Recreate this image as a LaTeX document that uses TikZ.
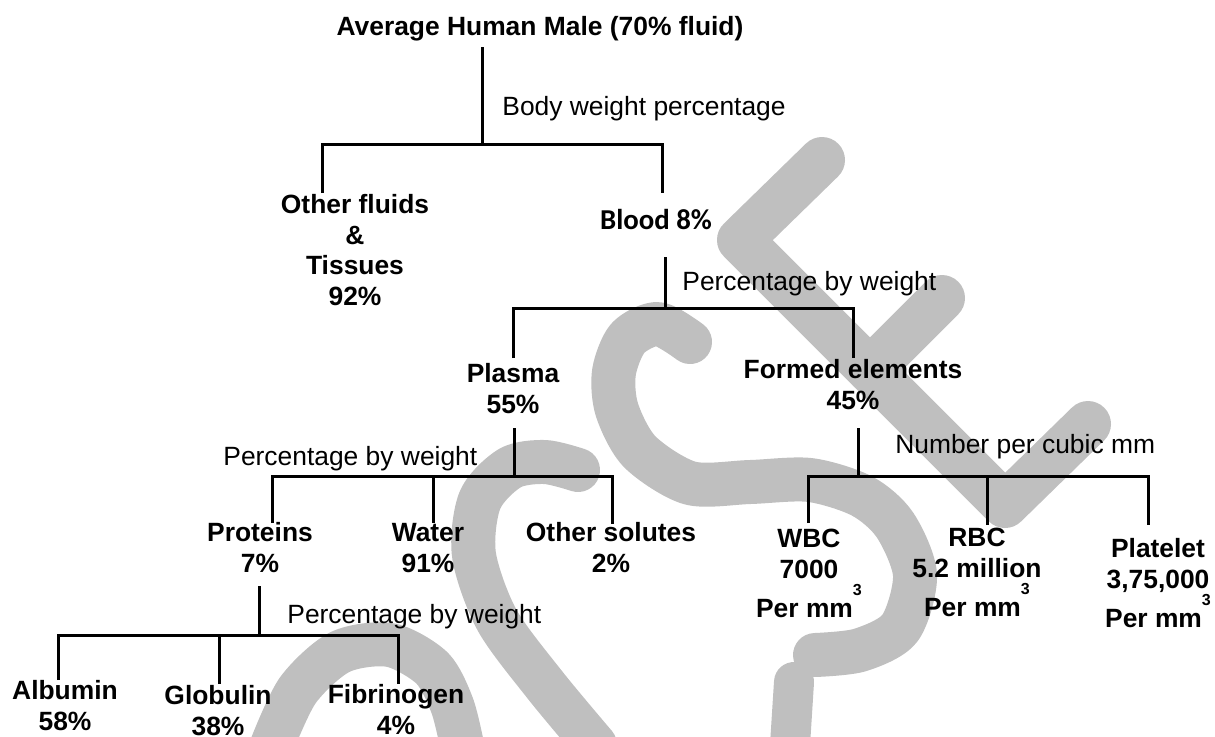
\documentclass[tikz,border=0pt]{standalone}
\usepackage{fontspec}
\setmainfont{Liberation Sans}
\newfontfamily\calibrifont{Carlito}

\definecolor{wmgray}{RGB}{191,191,191}

\tikzset{
    branch/.style={line width=1.5pt},
    part/.style={font=\bfseries\fontsize{13.2}{15.25}\selectfont, align=center, anchor=base, inner sep=0pt},
    measure/.style={font=\fontsize{13.2}{15.25}\selectfont, anchor=base west, inner sep=0pt},
    wmline/.style={wmgray, line width=22pt, line cap=round, line join=round}
}

\newcommand{\percubic}{Per mm\smash{\raisebox{11pt}{\fontsize{8}{8}\selectfont 3}}}

\begin{document}
\begin{tikzpicture}[x=0.5pt, y=-0.5pt]
    \useasboundingbox (0,0) rectangle (1215,736);

    % Watermark
    \begin{scope}
        \clip (0,0) rectangle (1215,736);
        \draw[wmline] plot[smooth] coordinates {(690,342) (658,324) (628,338) (614,372) (617,410) (640,452) (690,483) (750,482) (810,480) (862,496) (895,525) (915,575) (900,628) (860,650) (815,655)};
        \draw[wmline] plot[smooth] coordinates {(578,470) (545,462) (510,468) (480,500) (474,555) (497,620) (545,685) (595,745)};
        \draw[wmline] plot[smooth] coordinates {(272,745) (298,690) (340,652) (390,645) (432,668) (452,705) (462,745)};
        \draw[wmline, line width=20pt] (794,682) -- (790,745);
        \draw[wmline, line width=23pt] (822,160) -- (740,240) -- (1005,505) -- (1088,424);
        \draw[wmline, line width=23pt] (870,370) -- (942,298);
    \end{scope}

    % Labels (anchored at the baseline of their last line)
    \node[part] (title) at (540,35) {Average Human Male (70\% fluid)};
    \node[measure] (bodywt) at (502,115) {Body weight percentage};
    \node[part] (other) at (355,305) {Other fluids\\\&\\Tissues\\92\%};
    \node[part, font=\calibrifont\bfseries\fontsize{14.4}{16}\selectfont] (blood) at (656,229) {Blood 8\%};
    \node[measure] (bywtBlood) at (682,290) {Percentage by weight};
    \node[part] (plasma) at (513,413) {Plasma\\55\%};
    \node[part] (formed) at (853,409) {Formed elements\\45\%};
    \node[measure] (bywtPlasma) at (223,465) {Percentage by weight};
    \node[measure] (percubic) at (895,453) {Number per cubic mm};
    \node[part] (proteins) at (260,572) {Proteins\\7\%};
    \node[part] (water) at (428,572) {Water\\91\%};
    \node[part] (solutes) at (611,572) {Other solutes\\2\%};
    \node[part] (wbc) at (809,617) {WBC\\7000\\[4.25pt]\percubic};
    \node[part] (rbc) at (977,616) {RBC\\5.2 million\\[4.25pt]\percubic};
    \node[part] (platelet) at (1158,627) {Platelet\\3,75,000\\[4.25pt]\percubic};
    \node[measure] (bywtProt) at (287,623) {Percentage by weight};
    \node[part] (albumin) at (65,730) {Albumin\\58\%};
    \node[part] (globulin) at (218,735) {Globulin\\38\%};
    \node[part] (fibrinogen) at (396,734) {Fibrinogen\\4\%};

    % Body -> other fluids, blood
    \coordinate (s1) at (482,47);
    \coordinate (j1) at (482,144);
    \coordinate (l1a) at (322,193);
    \coordinate (l1b) at (662,193);
    \draw[branch] (s1) -- (j1);
    \draw[branch] (l1a) |- (j1) -| (l1b);

    % Blood -> plasma, formed elements
    \coordinate (s2) at (665,257);
    \coordinate (j2) at (665,308);
    \coordinate (l2a) at (513,358);
    \coordinate (l2b) at (853,358);
    \draw[branch] (s2) -- (j2);
    \draw[branch] (l2a) |- (j2) -| (l2b);

    % Plasma -> proteins, water, solutes
    \coordinate (s3) at (514,428);
    \coordinate (j3) at (514,476);
    \coordinate (l3a) at (272,523);
    \coordinate (l3b) at (433,523);
    \coordinate (l3c) at (612,524);
    \draw[branch] (s3) -- (j3);
    \draw[branch] (l3a) |- (j3) -| (l3c);
    \draw[branch] (l3b) -- (l3b |- j3);

    % Formed elements -> WBC, RBC, platelet
    \coordinate (s4) at (858,428);
    \coordinate (j4) at (858,476);
    \coordinate (l4a) at (808,523);
    \coordinate (l4b) at (987,525);
    \coordinate (l4c) at (1148,525);
    \draw[branch] (s4) -- (j4);
    \draw[branch] (l4a) |- (j4) -| (l4c);
    \draw[branch] (l4b) -- (l4b |- j4);

    % Proteins -> albumin, globulin, fibrinogen
    \coordinate (s5) at (259,586);
    \coordinate (j5) at (259,635);
    \coordinate (l5a) at (58,680);
    \coordinate (l5b) at (219,684);
    \coordinate (l5c) at (398,684);
    \draw[branch] (s5) -- (j5);
    \draw[branch] (l5a) |- (j5) -| (l5c);
    \draw[branch] (l5b) -- (l5b |- j5);
\end{tikzpicture}
\end{document}
